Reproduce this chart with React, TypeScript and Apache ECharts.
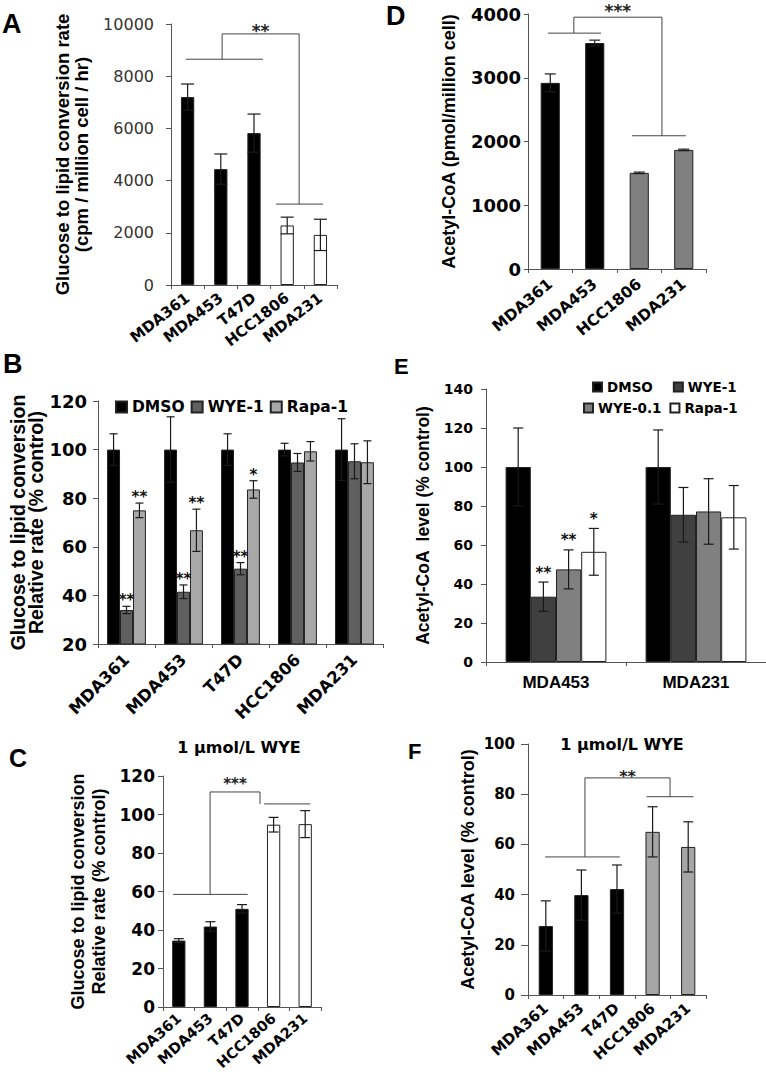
import React, { useEffect, useRef } from 'react';
import * as echarts from 'echarts';

// ---------------- DATA ----------------
// Panel A
const catsA = ['MDA361', 'MDA453', 'T47D', 'HCC1806', 'MDA231'];
const valuesA = [7200, 4440, 5820, 2280, 1920];
const errorsA = [500, 580, 730, 320, 600];
const fillA = ['#000000', '#000000', '#000000', '#ffffff', '#ffffff'];
const bracketA = { left: [-0.05, 2.27], leftY: 8650, stemL: 1.04, top: 9620, stemR: 3.36, right: [2.66, 4.08], rightY: 3100, label: '**' };

// Panel D
const catsD = ['MDA361', 'MDA453', 'HCC1806', 'MDA231'];
const valuesD = [2920, 3545, 1508, 1868];
const errorsD = [140, 45, 12, 12];
const fillD = ['#000000', '#000000', '#808080', '#808080'];
const bracketD = { left: [-0.05, 1.14], leftY: 3700, stemL: 0.53, top: 3950, stemR: 2.51, right: [1.84, 3.05], rightY: 2090, label: '***' };

// Panel B
const catsB = ['MDA361', 'MDA453', 'T47D', 'HCC1806', 'MDA231'];
const bDmso = [100, 100, 100, 100, 100];
const bDmsoErr = [6.5, 13.5, 6.5, 2.6, 12.7];
const bWye = [34, 41.5, 51, 94.7, 95.2];
const bWyeErr = [1.5, 2.8, 2.5, 3.7, 7.2];
const bRapa = [75, 66.8, 83.6, 99.3, 94.8];
const bRapaErr = [3, 8.7, 3.6, 4, 8.8];
const bWyeSig = ['**', '**', '**', '', ''];
const bRapaSig = ['**', '**', '*', '', ''];

// Panel E
const catsE = ['MDA453', 'MDA231'];
const eDmso = [100, 100];
const eDmsoErr = [20, 19];
const eWye1 = [33.5, 75.5];
const eWye1Err = [7.5, 14];
const eWye01 = [47.5, 77.2];
const eWye01Err = [10, 16.8];
const eRapa = [56.5, 74.2];
const eRapaErr = [12, 16.3];
const eWye1Sig = ['**', ''];
const eWye01Sig = ['**', ''];
const eRapaSig = ['*', ''];

// Panel C
const catsC = ['MDA361', 'MDA453', 'T47D', 'HCC1806', 'MDA231'];
const valuesC = [34.5, 41.8, 51, 94.7, 95];
const errorsC = [1, 2.5, 2.2, 3.8, 7];
const fillC = ['#000000', '#000000', '#000000', '#ffffff', '#ffffff'];
const bracketC = { left: [-0.18, 2.18], leftY: 58.5, stemL: 0.99, top: 111.7, stemR: 2.57, right: [2.7, 4.16], rightY: 105.5, label: '***' };

// Panel F
const catsF = ['MDA361', 'MDA453', 'T47D', 'HCC1806', 'MDA231'];
const valuesF = [27.5, 39.8, 42.2, 65, 59];
const errorsF = [10, 10, 9.6, 10, 10];
const fillF = ['#000000', '#000000', '#000000', '#a6a6a6', '#a6a6a6'];
const bracketF = { left: [-0.02, 2.08], leftY: 55, stemL: 1.1, top: 86.5, stemR: 3.49, right: [2.83, 4.15], rightY: 79, label: '**' };

// ---------------- STYLE HELPERS ----------------
const DV = '"DejaVu Sans", sans-serif';
const AR = '"Liberation Sans", Arial, sans-serif';
const AXIS = '#555555';
const BORDER = '#222222';

function xCat(gridIndex: number, data: string[], label: any, tickLen = 4) {
  return {
    type: 'category', gridIndex, data,
    axisLine: { onZero: false, lineStyle: { color: AXIS, width: 1 } },
    axisTick: { show: true, length: tickLen, lineStyle: { color: AXIS } },
    splitLine: { show: false },
    axisLabel: { interval: 0, color: '#000', fontFamily: DV, fontWeight: 'bold', ...label },
  };
}

function yVal(gridIndex: number, min: number, max: number, interval: number, label: any, name: string, nameGap: number, nameStyle: any, tickLen = 5) {
  return {
    type: 'value', gridIndex, min, max, interval,
    axisLine: { show: true, lineStyle: { color: AXIS, width: 1 } },
    axisTick: { show: true, length: tickLen, lineStyle: { color: AXIS } },
    splitLine: { show: false },
    axisLabel: { color: '#000', fontFamily: DV, fontWeight: 'bold', formatter: (v: number) => String(v), ...label },
    name, nameLocation: 'middle', nameRotate: 90, nameGap,
    nameTextStyle: { color: '#000', fontFamily: AR, fontWeight: 'bold', align: 'center', ...nameStyle },
  };
}

function barSeries(idx: number, name: string | undefined, values: number[], fills: string[] | string, barWidth: string) {
  return {
    type: 'bar', name, xAxisIndex: idx, yAxisIndex: idx, barWidth, barGap: '0%', clip: true,
    itemStyle: { color: typeof fills === 'string' ? fills : '#000', borderColor: BORDER, borderWidth: 1 },
    data: values.map((v, i) => (typeof fills === 'string' ? v : { value: v, itemStyle: { color: fills[i] } })),
    z: 2,
  };
}

function errSeries(idx: number, values: number[], errors: number[], offsetFrac: number, capPx: number, sig?: string[], sigSize = 15, sigGap = 6) {
  return {
    type: 'custom', xAxisIndex: idx, yAxisIndex: idx, silent: true, z: 5,
    data: values.map((v, i) => [i, v, errors[i]]),
    encode: { x: 0, y: 1 },
    renderItem: (params: any, api: any) => {
      const i = api.value(0), v = api.value(1), e = api.value(2);
      const bw = api.size([1, 0])[0];
      const pTop = api.coord([i, v + e]);
      const pBot = api.coord([i, v - e]);
      const x = pTop[0] + offsetFrac * bw;
      const st = { stroke: '#1a1a1a', lineWidth: 1.2 };
      const children: any[] = [
        { type: 'line', shape: { x1: x, y1: pTop[1], x2: x, y2: pBot[1] }, style: st },
        { type: 'line', shape: { x1: x - capPx / 2, y1: pTop[1], x2: x + capPx / 2, y2: pTop[1] }, style: st },
        { type: 'line', shape: { x1: x - capPx / 2, y1: pBot[1], x2: x + capPx / 2, y2: pBot[1] }, style: st },
      ];
      const s = sig && sig[params.dataIndex];
      if (s) {
        children.push({
          type: 'text',
          style: { text: s, x, y: pTop[1] - sigGap, align: 'center', verticalAlign: 'middle', font: `bold ${sigSize}px ${DV}`, fill: '#111' },
        });
      }
      return { type: 'group', children };
    },
  };
}

function bracketSeries(idx: number, b: any, starSize: number, starGap: number) {
  return {
    type: 'custom', xAxisIndex: idx, yAxisIndex: idx, silent: true, z: 6,
    data: [[0, b.top]],
    encode: { x: 0, y: 1 },
    renderItem: (params: any, api: any) => {
      const bw = api.size([1, 0])[0];
      const x0 = api.coord([0, 0])[0];
      const X = (u: number) => x0 + u * bw;
      const Y = (v: number) => api.coord([0, v])[1];
      const st = { stroke: '#444', lineWidth: 1 };
      const L = (x1: number, y1: number, x2: number, y2: number) => ({ type: 'line', shape: { x1, y1, x2, y2 }, style: st });
      const yl = Y(b.leftY), yt = Y(b.top), yr = Y(b.rightY);
      const xl = X(b.stemL), xr = X(b.stemR);
      return {
        type: 'group',
        children: [
          L(X(b.left[0]), yl, X(b.left[1]), yl),
          L(xl, yl, xl, yt),
          L(xl, yt, xr, yt),
          L(xr, yt, xr, yr),
          L(X(b.right[0]), yr, X(b.right[1]), yr),
          {
            type: 'text',
            style: { text: b.label, x: (xl + xr) / 2, y: yt - starGap, align: 'center', verticalAlign: 'middle', font: `bold ${starSize}px ${DV}`, fill: '#222' },
          },
        ],
      };
    },
  };
}

function letter(t: string, x: number, y: number, size: number) {
  return { type: 'text', x, y, style: { text: t, font: `bold ${size}px ${AR}`, fill: '#000', align: 'left', verticalAlign: 'top' } };
}

function titleText(t: string, x: number, y: number) {
  return { type: 'text', x, y, style: { text: t, font: `bold 16px ${DV}`, fill: '#000', align: 'center', verticalAlign: 'middle' } };
}

// ---------------- APP ----------------
export default function App() {
  const ref = useRef<HTMLDivElement>(null);
  useEffect(() => {
    if (!ref.current) return;
    const chart = echarts.init(ref.current, undefined, { renderer: 'svg' });
    const B_W = '22.7%';
    const bFrac = 0.227;
    const E_W = '18%';
    const eFrac = 0.18;

    const option: any = {
      animation: false,
      backgroundColor: '#ffffff',
      grid: [
        { left: 171, top: 24, width: 166, height: 261 }, // A
        { left: 528, top: 14, width: 178, height: 255 }, // D
        { left: 98, top: 401, width: 285, height: 243 }, // B
        { left: 486, top: 389, width: 280, height: 273 }, // E
        { left: 163, top: 776, width: 158, height: 231 }, // C
        { left: 528, top: 744, width: 178, height: 251 }, // F
      ],
      xAxis: [
        xCat(0, catsA, { rotate: 38, fontSize: 15, margin: 11 }),
        xCat(1, catsD, { rotate: 40, fontSize: 15.5, margin: 13 }),
        xCat(2, catsB, { rotate: 45, fontSize: 16.5, margin: 13 }),
        xCat(3, catsE, { rotate: 0, fontSize: 17, fontFamily: AR, margin: 12 }),
        xCat(4, catsC, { rotate: 42, fontSize: 14.5, margin: 9 }),
        xCat(5, catsF, { rotate: 42, fontSize: 15, margin: 11 }),
      ],
      yAxis: [
        yVal(0, 0, 10000, 2000, { fontWeight: 'normal', fontSize: 16, color: '#333', margin: 17 },
          'Glucose to lipid conversion rate\n(cpm / million cell / hr)', 80, { fontSize: 18.5, lineHeight: 19 }),
        yVal(1, 0, 4000, 1000, { fontSize: 18, margin: 7 },
          'Acetyl-CoA (pmol/million cell)', 69, { fontSize: 18, lineHeight: 20 }, 4),
        yVal(2, 20, 120, 20, { fontSize: 18, margin: 11 },
          'Glucose to lipid conversion\nRelative rate (% control)', 43, { fontSize: 19.5, lineHeight: 18 }),
        yVal(3, 0, 140, 20, { fontSize: 14, margin: 13 },
          'Acetyl-CoA  level (% control)', 54, { fontSize: 17.5, lineHeight: 18 }),
        yVal(4, 0, 120, 20, { fontSize: 17, margin: 8 },
          'Glucose to lipid conversion\nRelative rate (% control)', 54, { fontSize: 18, lineHeight: 21 }),
        yVal(5, 0, 100, 20, { fontSize: 15, margin: 13 },
          'Acetyl-CoA level (% control)', 51, { fontSize: 18, lineHeight: 18 }, 7),
      ],
      legend: [
        {
          left: 115, top: 399, padding: 0, itemGap: 6, itemWidth: 11, itemHeight: 11, icon: 'rect', selectedMode: false,
          textStyle: { fontFamily: DV, fontWeight: 'bold', fontSize: 15.5, color: '#000' },
          data: [
            { name: 'DMSO', itemStyle: { color: '#000000' } },
            { name: 'WYE-1', itemStyle: { color: '#606060' } },
            { name: 'Rapa-1', itemStyle: { color: '#a8a8a8' } },
          ],
        },
        {
          left: 592, top: 380, padding: 0, itemGap: 20, itemWidth: 9, itemHeight: 9, icon: 'rect', selectedMode: false,
          textStyle: { fontFamily: DV, fontWeight: 'bold', fontSize: 13.5, color: '#000' },
          data: [
            { name: 'DMSO', itemStyle: { color: '#000000' } },
            { name: 'WYE-1', itemStyle: { color: '#404040' } },
          ],
        },
        {
          left: 583, top: 401, padding: 0, itemGap: 8, itemWidth: 9, itemHeight: 9, icon: 'rect', selectedMode: false,
          textStyle: { fontFamily: DV, fontWeight: 'bold', fontSize: 13.5, color: '#000' },
          data: [
            { name: 'WYE-0.1', itemStyle: { color: '#808080' } },
            { name: 'Rapa-1', itemStyle: { color: '#ffffff' } },
          ],
        },
      ],
      graphic: [
        letter('A', 2, 10, 27),
        letter('D', 386, 2, 27),
        letter('B', 3, 350, 27),
        letter('E', 394, 355, 22),
        letter('C', 9, 745, 25),
        letter('F', 408, 740, 22),
        titleText('1 \u03bcmol/L WYE', 239, 747),
        titleText('1 \u03bcmol/L WYE', 622, 744),
      ],
      series: [
        // A
        barSeries(0, undefined, valuesA, fillA, '40%'),
        errSeries(0, valuesA, errorsA, 0, 13),
        bracketSeries(0, bracketA, 17, 3),
        // D
        barSeries(1, undefined, valuesD, fillD, '43%'),
        errSeries(1, valuesD, errorsD, 0, 11),
        bracketSeries(1, bracketD, 17, 6),
        // B
        barSeries(2, 'DMSO', bDmso, '#000000', B_W),
        barSeries(2, 'WYE-1', bWye, '#606060', B_W),
        barSeries(2, 'Rapa-1', bRapa, '#a8a8a8', B_W),
        errSeries(2, bDmso, bDmsoErr, -bFrac, 8),
        errSeries(2, bWye, bWyeErr, 0, 8, bWyeSig, 15, 6),
        errSeries(2, bRapa, bRapaErr, bFrac, 8, bRapaSig, 15, 6),
        // E
        barSeries(3, 'DMSO', eDmso, '#000000', E_W),
        barSeries(3, 'WYE-1', eWye1, '#404040', E_W),
        barSeries(3, 'WYE-0.1', eWye01, '#808080', E_W),
        barSeries(3, 'Rapa-1', eRapa, '#ffffff', E_W),
        errSeries(3, eDmso, eDmsoErr, -1.5 * eFrac, 10),
        errSeries(3, eWye1, eWye1Err, -0.5 * eFrac, 10, eWye1Sig, 15, 9.5),
        errSeries(3, eWye01, eWye01Err, 0.5 * eFrac, 10, eWye01Sig, 15, 9.5),
        errSeries(3, eRapa, eRapaErr, 1.5 * eFrac, 10, eRapaSig, 15, 9.5),
        // C
        barSeries(4, undefined, valuesC, fillC, '42%'),
        errSeries(4, valuesC, errorsC, 0, 10),
        bracketSeries(4, bracketC, 15, 8),
        // F
        barSeries(5, undefined, valuesF, fillF, '40%'),
        errSeries(5, valuesF, errorsF, 0, 10),
        bracketSeries(5, bracketF, 16, 1),
      ],
    };
    chart.setOption(option);
    return () => chart.dispose();
  }, []);
  return <div ref={ref} style={{ position: 'absolute', left: 0, top: 0, width: 766, height: 1080, background: '#fff' }} />;
}
